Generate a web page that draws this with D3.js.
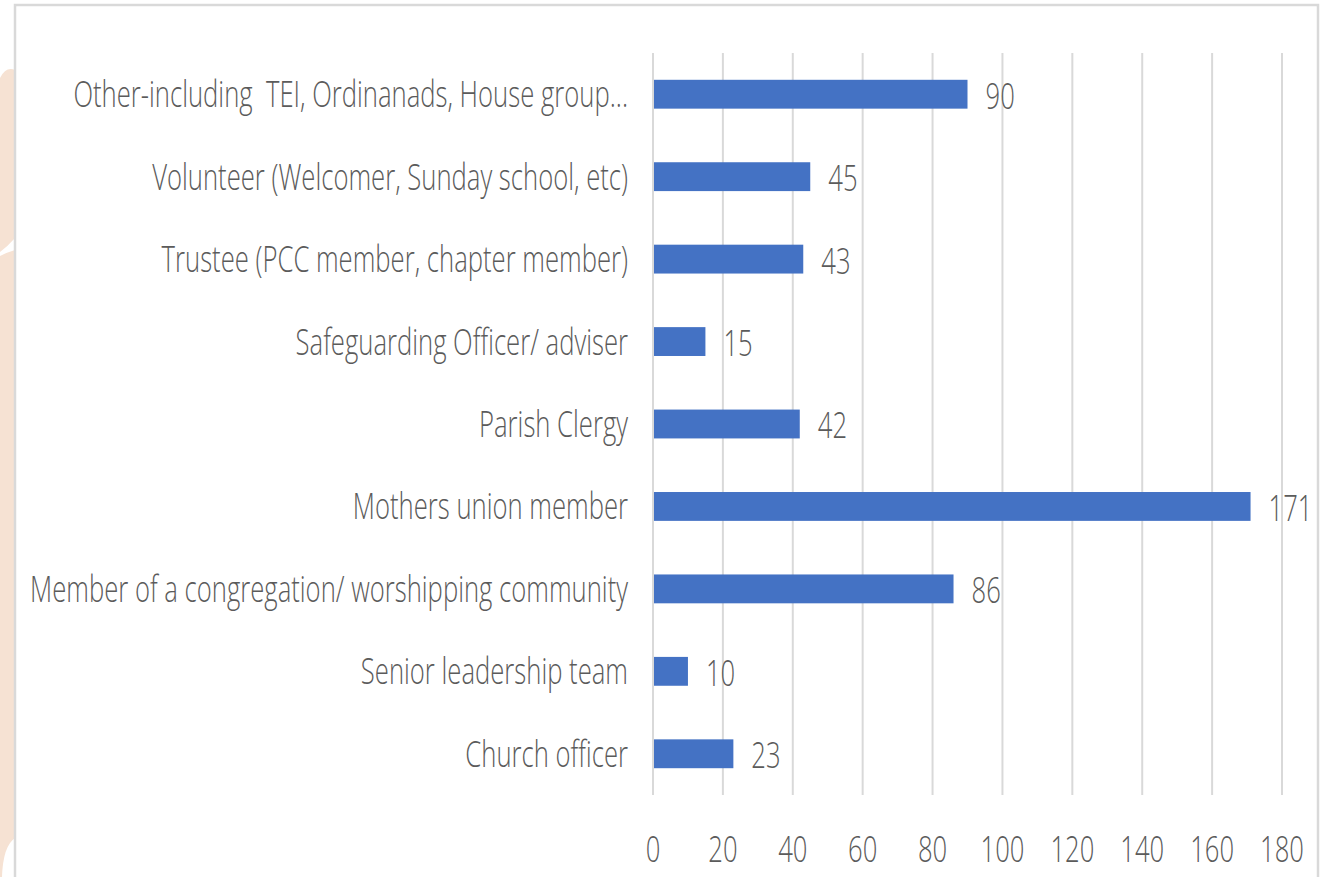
<!DOCTYPE html>
<html>
<head>
<meta charset="utf-8">
<script src="https://cdn.jsdelivr.net/npm/d3@7"></script>
<style>
  body { margin: 0; background: #fff; }
  svg text { font-family: 'Open Sans', 'Noto Sans', sans-serif; font-weight: 300; fill: #5b5b5b; white-space: pre; }
</style>
</head>
<body>
<div id="chart"></div>
<script>
// categories, top to bottom
const categories = [
  'Other-including  TEI, Ordinanads, House group...',
  'Volunteer (Welcomer, Sunday school, etc)',
  'Trustee (PCC member, chapter member)',
  'Safeguarding Officer/ adviser',
  'Parish Clergy',
  'Mothers union member',
  'Member of a congregation/ worshipping community',
  'Senior leadership team',
  'Church officer'
]
const values = [90, 45, 43, 15, 42, 171, 86, 10, 23]
const xTicks = [0, 20, 40, 60, 80, 100, 120, 140, 160, 180]

const width = 1327
const height = 877
const plot = {left: 653, right: 1282, top: 53, bottom: 795}
const fontSize = 36
const labelWidth = 598   // width of the longest category label

const svg = d3.select('#chart')
  .append('svg')
  .attr('width', width)
  .attr('height', height)

// decorative peach strip on the left, behind the frame
svg.append('rect')
  .attr('x', 0).attr('y', 0)
  .attr('width', 15).attr('height', height)
  .attr('fill', '#f6e2d3')
svg.append('path')
  .attr('d', 'M0,0 H15 V70 Q6,66 0,78 Z')
  .attr('fill', '#fff')
svg.append('path')
  .attr('d', 'M0,252 Q8,246 15,238 V250 Q8,252 0,256 Z')
  .attr('fill', '#fff')
svg.append('path')
  .attr('d', 'M15,838 Q3,846 2,877 H15 Z')
  .attr('fill', '#fff')

// chart frame
svg.append('rect')
  .attr('x', 15).attr('y', 5)
  .attr('width', 1303).attr('height', height + 10)
  .attr('fill', '#fff')
  .attr('stroke', '#d9d9d9')
  .attr('stroke-width', 2.5)

const x = d3.scaleLinear().domain([0, 180]).range([plot.left, plot.right])
const y = d3.scaleBand().domain(categories)
  .range([plot.top, plot.bottom])
  .paddingInner(0.65)
  .paddingOuter(0.325)

// gridlines
svg.append('g')
  .selectAll('line')
  .data(xTicks)
  .join('line')
  .attr('x1', (d) => x(d)).attr('x2', (d) => x(d))
  .attr('y1', plot.top).attr('y2', plot.bottom)
  .attr('stroke', '#d9d9d9')
  .attr('stroke-width', 2)

// bars
svg.append('g')
  .selectAll('rect')
  .data(values)
  .join('rect')
  .attr('x', x(0) + 1)
  .attr('y', (d, i) => y(categories[i]))
  .attr('width', (d) => x(d) - x(0) - 1)
  .attr('height', y.bandwidth())
  .attr('fill', '#4472c4')

// condensed text: draw at normal width, then squeeze horizontally
function squeeze (sel, sx) {
  sel.attr('transform', function () {
    let tx = +this.getAttribute('data-x')
    let ty = +this.getAttribute('data-y')
    return `translate(${tx},${ty}) scale(${sx},1)`
  })
}

// category labels
const catLabels = svg.append('g')
  .selectAll('text')
  .data(categories)
  .join('text')
  .attr('data-x', plot.left - 25)
  .attr('data-y', (d) => y(d) + y.bandwidth() / 2)
  .attr('dy', '0.36em')
  .style('text-anchor', 'end')
  .style('font-size', fontSize + 'px')
  .text((d) => d)

let widest = d3.max(catLabels.nodes(), (n) => n.getComputedTextLength())
const sx = labelWidth / widest
squeeze(catLabels, sx)

// value labels
const valLabels = svg.append('g')
  .selectAll('text')
  .data(values)
  .join('text')
  .attr('data-x', (d) => x(d) + 18)
  .attr('data-y', (d, i) => y(categories[i]) + y.bandwidth() / 2)
  .attr('dy', '0.4em')
  .style('font-size', fontSize + 'px')
  .text((d) => d)
squeeze(valLabels, sx)

// x tick labels
const tickLabels = svg.append('g')
  .selectAll('text')
  .data(xTicks)
  .join('text')
  .attr('data-x', (d) => x(d))
  .attr('data-y', 862)
  .style('text-anchor', 'middle')
  .style('font-size', fontSize + 'px')
  .text((d) => d)
squeeze(tickLabels, sx)
</script>
</body>
</html>
